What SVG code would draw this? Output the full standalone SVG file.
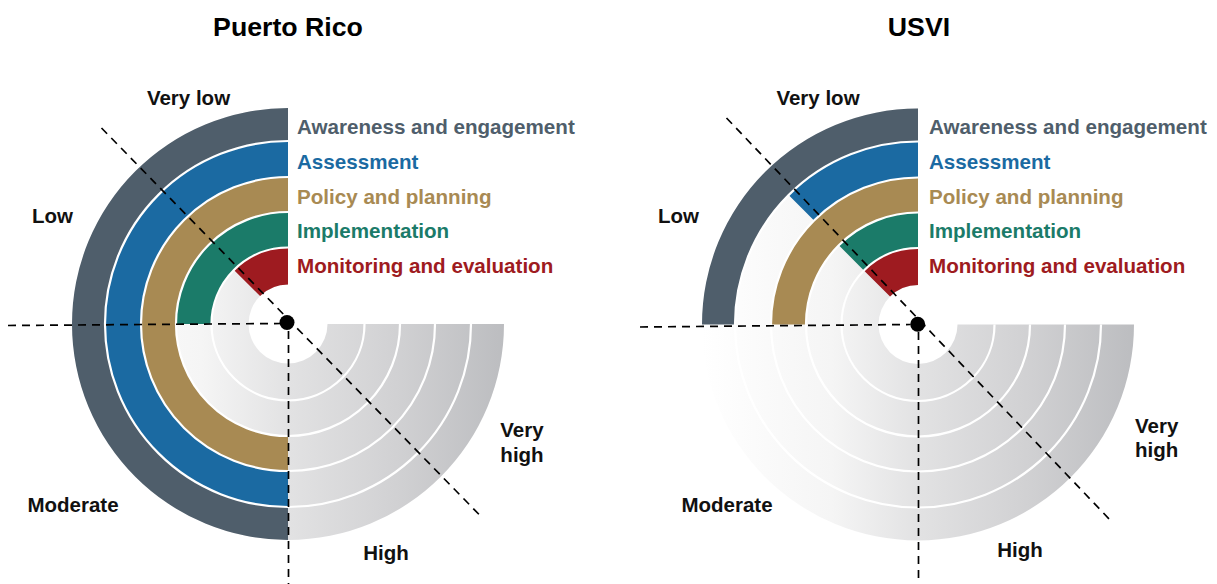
<svg xmlns="http://www.w3.org/2000/svg" width="1217" height="584" viewBox="0 0 1217 584">
  <style>
    text { font-family: "Liberation Sans", Arial, sans-serif; font-weight: bold; }
    .title { font-size: 26.7px; fill: #000; text-anchor: middle; }
    .lab { font-size: 20.5px; fill: #111; text-anchor: middle; }
    .leg { font-size: 20.6px; }
    .bg { fill: url(#grad); }
    .sep { fill: none; stroke: #fff; stroke-width: 2.2; }
    .dash { fill: none; stroke: #000; stroke-width: 1.7; stroke-dasharray: 8 6; }
    .c-aw { fill: #4f5e6b; }
    .c-as { fill: #1b6aa2; }
    .c-pp { fill: #a88a53; }
    .c-im { fill: #1b7b69; }
    .c-me { fill: #9e1b20; }
  </style>
  <defs>
    <linearGradient id="grad" gradientUnits="userSpaceOnUse" x1="-216" y1="0" x2="216" y2="0">
      <stop offset="0" stop-color="#ffffff"/>
      <stop offset="0.3" stop-color="#f5f5f5"/>
      <stop offset="0.5" stop-color="#e2e2e3"/>
      <stop offset="0.75" stop-color="#d1d1d3"/>
      <stop offset="1" stop-color="#bcbdc0"/>
    </linearGradient>
    <path id="donut" d="M0,-216 A216,216 0 1 0 216,0 L39.5,0 A39.5,39.5 0 1 1 0,-39.5 Z"/>
    <g id="seps">
      <path class="sep" d="M0,-76.5 A76.5,76.5 0 1 0 76.5,0"/>
      <path class="sep" d="M0,-112 A112,112 0 1 0 112,0"/>
      <path class="sep" d="M0,-147 A147,147 0 1 0 147,0"/>
      <path class="sep" d="M0,-183 A183,183 0 1 0 183,0"/>
    </g>
  </defs>

  <!-- Puerto Rico -->
  <g id="title-pr"><text class="title" x="288" y="36">Puerto Rico</text></g>
  <g id="chart-pr" transform="translate(288,324)">
    <use href="#donut" class="bg"/>
    <g id="pr-awareness"><path class="c-aw" d="M0,-216 A216,216 0 0 0 0,216 L0,183 A183,183 0 0 1 0,-183 Z"/></g>
    <g id="pr-assessment"><path class="c-as" d="M0,-183 A183,183 0 0 0 0,183 L0,147 A147,147 0 0 1 0,-147 Z"/></g>
    <g id="pr-policy"><path class="c-pp" d="M0,-147 A147,147 0 0 0 0,147 L0,112 A112,112 0 0 1 0,-112 Z"/></g>
    <g id="pr-implementation"><path class="c-im" d="M0,-112 A112,112 0 0 0 -112,0 L-76.5,0 A76.5,76.5 0 0 1 0,-76.5 Z"/></g>
    <g id="pr-monitoring"><path class="c-me" d="M0,-76.5 A76.5,76.5 0 0 0 -54.09,-54.09 L-27.93,-27.93 A39.5,39.5 0 0 1 0,-39.5 Z"/></g>
    <use href="#seps"/>
  </g>

  <!-- USVI -->
  <g id="title-usvi"><text class="title" x="919" y="36">USVI</text></g>
  <g id="chart-usvi" transform="translate(918,324.5)">
    <use href="#donut" class="bg"/>
    <g id="usvi-awareness"><path class="c-aw" d="M0,-216 A216,216 0 0 0 -216,0 L-183,0 A183,183 0 0 1 0,-183 Z"/></g>
    <g id="usvi-assessment"><path class="c-as" d="M0,-183 A183,183 0 0 0 -129.40,-129.40 L-103.94,-103.94 A147,147 0 0 1 0,-147 Z"/></g>
    <g id="usvi-policy"><path class="c-pp" d="M0,-147 A147,147 0 0 0 -147,0 L-112,0 A112,112 0 0 1 0,-112 Z"/></g>
    <g id="usvi-implementation"><path class="c-im" d="M0,-112 A112,112 0 0 0 -79.20,-79.20 L-54.09,-54.09 A76.5,76.5 0 0 1 0,-76.5 Z"/></g>
    <g id="usvi-monitoring"><path class="c-me" d="M0,-76.5 A76.5,76.5 0 0 0 -54.09,-54.09 L-27.93,-27.93 A39.5,39.5 0 0 1 0,-39.5 Z"/></g>
    <use href="#seps"/>
  </g>

  <!-- connectors: dashed sector dividers -->
  <g id="connectors">
    <line class="dash" x1="8" y1="325.5" x2="281" y2="323.5"/>
    <line class="dash" x1="101.5" y1="128" x2="483" y2="518.5"/>
    <line class="dash" x1="288.5" y1="331" x2="288.5" y2="584"/>
    <line class="dash" x1="640" y1="327" x2="910" y2="324.5"/>
    <line class="dash" x1="726.5" y1="118" x2="1112" y2="522"/>
    <line class="dash" x1="918.5" y1="332" x2="918.5" y2="584"/>
  </g>

  <g id="center-pr"><circle cx="287" cy="322.5" r="7.5" fill="#000"/></g>
  <g id="center-usvi"><circle cx="917.7" cy="324.3" r="7.5" fill="#000"/></g>

  <!-- legends -->
  <g id="legend-pr">
    <text class="leg" x="297" y="133.5" fill="#4f5e6b">Awareness and engagement</text>
    <text class="leg" x="297" y="168.5" fill="#1b6aa2">Assessment</text>
    <text class="leg" x="297" y="203.5" fill="#a88a53">Policy and planning</text>
    <text class="leg" x="297" y="238" fill="#1b7b69">Implementation</text>
    <text class="leg" x="297" y="272.5" fill="#9e1b20">Monitoring and evaluation</text>
  </g>
  <g id="legend-usvi">
    <text class="leg" x="929" y="133.5" fill="#4f5e6b">Awareness and engagement</text>
    <text class="leg" x="929" y="168.5" fill="#1b6aa2">Assessment</text>
    <text class="leg" x="929" y="203.5" fill="#a88a53">Policy and planning</text>
    <text class="leg" x="929" y="238" fill="#1b7b69">Implementation</text>
    <text class="leg" x="929" y="272.5" fill="#9e1b20">Monitoring and evaluation</text>
  </g>

  <!-- sector labels -->
  <g id="labels-pr">
    <text class="lab" x="188.5" y="105">Very low</text>
    <text class="lab" x="52.5" y="222.7">Low</text>
    <text class="lab" x="73" y="511.7">Moderate</text>
    <text class="lab" x="386" y="560">High</text>
    <text class="lab" x="522" y="436.7">Very</text>
    <text class="lab" x="522" y="461.7">high</text>
  </g>
  <g id="labels-usvi">
    <text class="lab" x="818" y="105">Very low</text>
    <text class="lab" x="678.5" y="222.7">Low</text>
    <text class="lab" x="727" y="511.7">Moderate</text>
    <text class="lab" x="1020" y="556.7">High</text>
    <text class="lab" x="1156.7" y="433.3">Very</text>
    <text class="lab" x="1156.7" y="457.3">high</text>
  </g>
</svg>
